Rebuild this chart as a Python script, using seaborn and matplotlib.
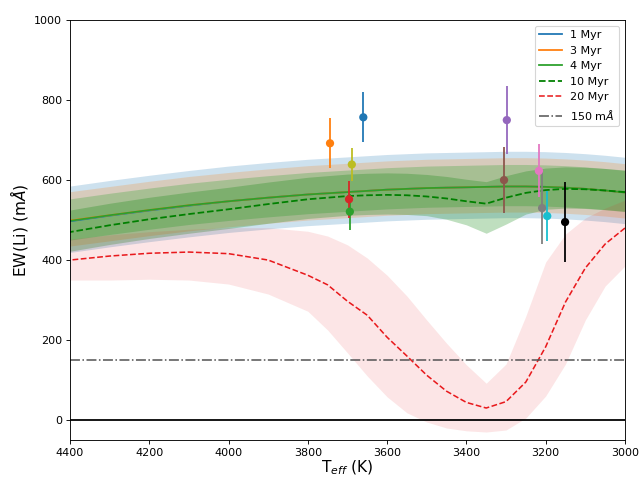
import numpy as np
import pandas as pd
import matplotlib
matplotlib.use("Agg")
import matplotlib.pyplot as plt
import seaborn as sns

# ---- model grid (Teff, K) ----
teff_grid = [4400, 4300, 4200, 4100, 4000, 3900, 3800, 3750, 3700, 3650, 3600, 3550,
             3500, 3450, 3400, 3350, 3300, 3250, 3200, 3150, 3100, 3050, 3000]

ew_1myr = [497, 511, 524, 536, 547, 556, 564, 567, 570, 573, 576, 578,
           580, 581, 582, 583, 584, 584, 583, 581, 578, 574, 569]
ew_3myr = [499, 512, 525, 537, 547, 556, 564, 567, 570, 573, 576, 578,
           580, 581, 582, 583, 584, 584, 583, 581, 578, 574, 569]
ew_4myr = [498, 512, 525, 537, 547, 556, 564, 567, 570, 573, 576, 578,
           580, 581, 582, 583, 584, 584, 583, 581, 578, 574, 569]
ew_10myr = [470, 487, 502, 515, 527, 540, 552, 556, 560, 562, 563, 562,
            559, 554, 547, 541, 556, 568, 575, 578, 577, 574, 570]
ew_10myr_low = [422, 439, 454, 467, 479, 492, 504, 508, 512, 514, 515, 514,
                511, 502, 488, 467, 490, 515, 527, 530, 529, 526, 522]
ew_20myr = [400, 410, 417, 420, 416, 400, 362, 338, 297, 262, 207, 160,
            112, 72, 44, 30, 46, 95, 183, 295, 380, 440, 480]
ew_20myr_up = [452, 463, 471, 477, 481, 481, 472, 460, 438, 405, 362, 310,
               250, 192, 138, 92, 140, 260, 395, 465, 505, 530, 550]
ew_20myr_low = [350, 350, 352, 350, 340, 315, 272, 225, 168, 110, 58, 18,
                -5, -20, -27, -30, -25, 5, 60, 140, 250, 335, 385]

# band half-widths (upper, lower)
band_1myr = (88, 78)
band_3myr = (72, 64)
band_4myr = (55, 48)
band_10myr_up = 55

# ---- observed stars ----
star_teff = [3660, 3744, 3694, 3696, 3298, 3305, 3217, 3209, 3689, 3196, 3151]
star_ew = [757, 692, 521, 552, 750, 600, 623, 530, 639, 510, 495]
star_err = [62, 63, 45, 46, 85, 82, 66, 89, 42, 63, 101]
star_colors = ["#1f77b4", "#ff7f0e", "#2ca02c", "#d62728", "#9467bd", "#8c564b",
               "#e377c2", "#7f7f7f", "#bcbd22", "#17becf", "black"]

li_limit = 150

T = np.array(teff_grid)
models = pd.DataFrame({"teff": T, "m1": ew_1myr, "m3": ew_3myr, "m4": ew_4myr,
                       "m10": ew_10myr, "m20": ew_20myr})

fig, ax = plt.subplots(figsize=(639 / 80, 479 / 80), dpi=80)
fig.subplots_adjust(left=0.1095, right=0.978, bottom=0.0814, top=0.958)

# uncertainty bands
ax.fill_between(T, np.array(ew_1myr) - band_1myr[1], np.array(ew_1myr) + band_1myr[0],
                color="#1f77b4", alpha=0.22, lw=0)
ax.fill_between(T, np.array(ew_3myr) - band_3myr[1], np.array(ew_3myr) + band_3myr[0],
                color="#ff7f0e", alpha=0.22, lw=0)
ax.fill_between(T, np.array(ew_4myr) - band_4myr[1], np.array(ew_4myr) + band_4myr[0],
                color="#2ca02c", alpha=0.28, lw=0)
ax.fill_between(T, ew_10myr_low, np.array(ew_10myr) + band_10myr_up,
                color="g", alpha=0.25, lw=0)
ax.fill_between(T, ew_20myr_low, ew_20myr_up, color="#e8191c", alpha=0.11, lw=0)

# model curves
sns.lineplot(data=models, x="teff", y="m1", ax=ax, color="#1f77b4", lw=1.6, label="1 Myr")
sns.lineplot(data=models, x="teff", y="m3", ax=ax, color="#ff7f0e", lw=1.6, label="3 Myr")
sns.lineplot(data=models, x="teff", y="m4", ax=ax, color="#2ca02c", lw=1.6, label="4 Myr")
sns.lineplot(data=models, x="teff", y="m10", ax=ax, color="g", lw=1.6, ls="--", label="10 Myr")
sns.lineplot(data=models, x="teff", y="m20", ax=ax, color="#e8191c", lw=1.4, ls="--", label="20 Myr")

ax.axhline(li_limit, color="#555555", lw=1.4, ls="-.", label=r"150 m$\AA$")
ax.axhline(0, color="black", lw=1.6)

# stars
for x, y, e, c in zip(star_teff, star_ew, star_err, star_colors):
    ax.errorbar(x, y, yerr=e, fmt="none", ecolor=c, elinewidth=1.6)
stars = pd.DataFrame({"teff": star_teff, "ew": star_ew, "id": range(len(star_teff))})
sns.scatterplot(data=stars, x="teff", y="ew", hue="id", palette=star_colors,
                s=55, edgecolor="none", legend=False, ax=ax, zorder=3)

ax.set_xlim(4400, 3000)
ax.set_ylim(-50, 1000)
ax.set_xticks(range(4400, 2999, -200))
ax.set_yticks(range(0, 1001, 200))
ax.tick_params(labelsize=10)
ax.set_xlabel(r"T$_{eff}$ (K)", fontsize=14, labelpad=1)
ax.set_ylabel(r"EW(Li) (m$\AA$)", fontsize=14)

ax.legend(loc="upper right", fontsize=10)

fig.savefig("out.png", dpi=80)
